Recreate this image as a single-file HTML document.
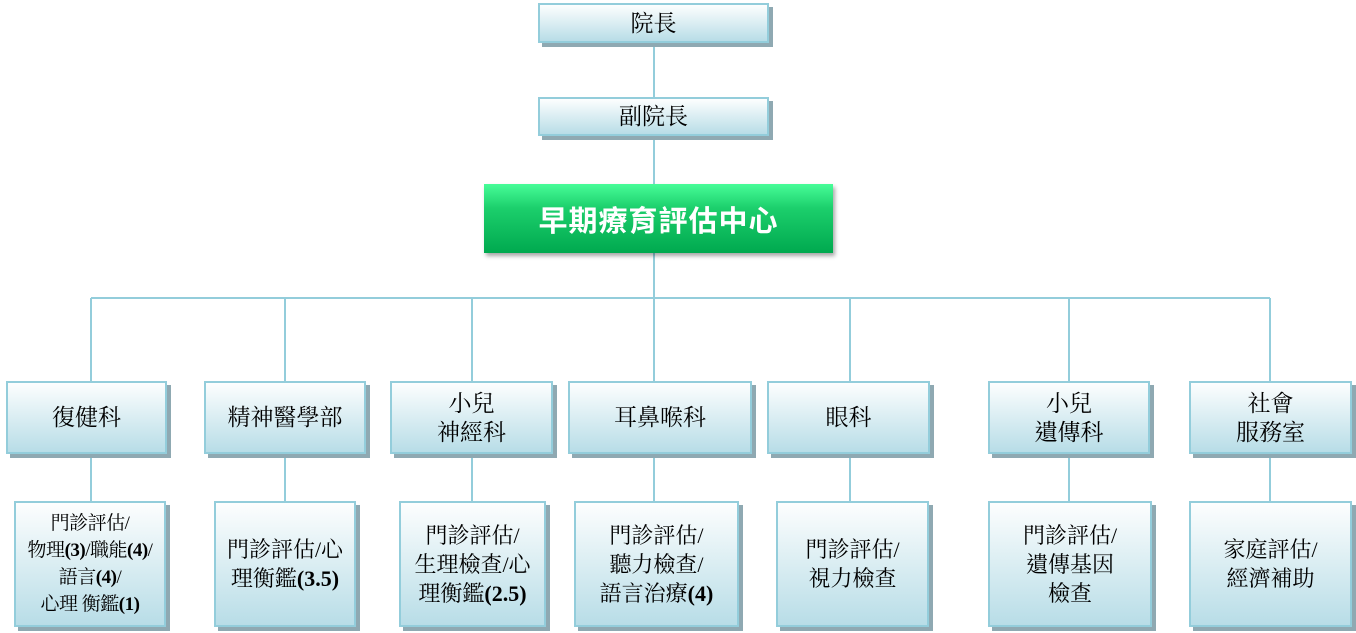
<!DOCTYPE html>
<html><head><meta charset="utf-8"><style>
body{margin:0;width:1356px;height:633px;background:#fff;position:relative;overflow:hidden;font-family:"Liberation Serif","Noto Serif CJK TC","Noto Serif CJK SC",serif;}
.b{position:absolute;box-sizing:border-box;border:2px solid #93cddb;background:linear-gradient(#fdfefe,#b8dde7);box-shadow:4px 4px 0 #8fa9b2;display:flex;align-items:center;justify-content:center;text-align:center;color:#000;font-size:23px;line-height:29px;}
.s{font-size:22px;line-height:29px;}
.g{position:absolute;left:484px;top:184px;width:349px;height:69px;background:linear-gradient(#47fd98 0%,#1ccf6c 35%,#00a94f 100%);box-shadow:2px 3px 4px rgba(0,0,0,.35);display:flex;align-items:center;justify-content:center;color:#fff;font-weight:bold;font-size:29px;font-family:"Liberation Sans","Noto Sans CJK TC","Noto Sans CJK SC",sans-serif;letter-spacing:1px;}
</style></head><body>
<svg style="position:absolute;left:0;top:0" width="1356" height="633">
<g stroke="#93cddb" stroke-width="2" fill="none">
<line x1="654" y1="42" x2="654" y2="298"/>
<line x1="91" y1="298" x2="1270" y2="298"/>
<line x1="91" y1="298" x2="91" y2="501"/>
<line x1="285" y1="298" x2="285" y2="501"/>
<line x1="472" y1="298" x2="472" y2="501"/>
<line x1="654" y1="298" x2="654" y2="501"/>
<line x1="850" y1="298" x2="850" y2="501"/>
<line x1="1069" y1="298" x2="1069" y2="501"/>
<line x1="1270" y1="298" x2="1270" y2="501"/>
</g></svg>
<div class="b" style="left:538px;top:3px;width:231px;height:40px">院長</div>
<div class="b" style="left:538px;top:97px;width:231px;height:39px">副院長</div>
<div class="g">早期療育評估中心</div>

<div class="b" style="left:6px;top:381px;width:161px;height:73px">復健科</div>
<div class="b" style="left:204px;top:381px;width:162px;height:73px">精神醫學部</div>
<div class="b" style="left:390px;top:381px;width:163px;height:73px">小兒<br>神經科</div>
<div class="b" style="left:568px;top:381px;width:184px;height:73px">耳鼻喉科</div>
<div class="b" style="left:767px;top:381px;width:163px;height:73px">眼科</div>
<div class="b" style="left:988px;top:381px;width:162px;height:73px">小兒<br>遺傳科</div>
<div class="b" style="left:1189px;top:381px;width:163px;height:73px">社會<br>服務室</div>

<div class="b s" style="left:14px;top:501px;width:152px;height:126px;font-size:19px;line-height:27px;letter-spacing:-0.5px"><div>門診評估/<br>物理<b>(3)</b>/職能<b>(4)</b>/<br>語言<b>(4)</b>/<br>心理 衡鑑<b>(1)</b></div></div>
<div class="b s" style="left:214px;top:501px;width:142px;height:126px"><div>門診評估/心<br>理衡鑑<b>(3.5)</b></div></div>
<div class="b s" style="left:399px;top:501px;width:147px;height:126px"><div>門診評估/<br>生理檢查/心<br>理衡鑑<b>(2.5)</b></div></div>
<div class="b s" style="left:574px;top:501px;width:165px;height:126px"><div>門診評估/<br>聽力檢查/<br>語言治療<b>(4)</b></div></div>
<div class="b s" style="left:776px;top:501px;width:153px;height:126px"><div>門診評估/<br>視力檢查</div></div>
<div class="b s" style="left:988px;top:501px;width:164px;height:126px"><div>門診評估/<br>遺傳基因<br>檢查</div></div>
<div class="b s" style="left:1189px;top:501px;width:163px;height:126px"><div>家庭評估/<br>經濟補助</div></div>
</body></html>
